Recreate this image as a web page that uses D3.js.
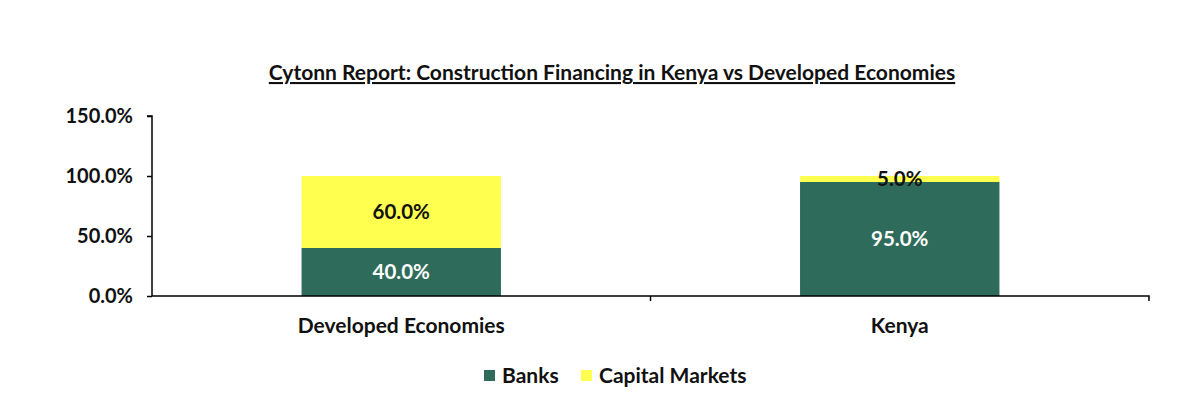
<!DOCTYPE html>
<html>
<head>
<meta charset="utf-8">
<script src="https://cdn.jsdelivr.net/npm/d3@7"></script>
<style>
  body { margin: 0; background: #fff; }
  text { font-family: Lato, "Open Sans", sans-serif; font-weight: bold; }
</style>
</head>
<body>
<div class="chart"></div>
<script>
const categories = ['Developed Economies', 'Kenya'];
const seriesNames = ['Banks', 'Capital Markets'];
const banks = [40.0, 95.0];
const capitalMarkets = [60.0, 5.0];
const yTicks = [0, 50, 100, 150];

const colors = { 'Banks': '#2e6b5a', 'Capital Markets': '#ffff4f' };
const labelColors = { 'Banks': '#ffffff', 'Capital Markets': '#111111' };

const W = 1188, H = 410;
const margin = { top: 116, right: 39, bottom: 114, left: 152 };
const width = W - margin.left - margin.right;
const height = H - margin.top - margin.bottom;

const rows = categories.map((c, i) => ({ cat: c, 'Banks': banks[i], 'Capital Markets': capitalMarkets[i] }));
const stacked = d3.stack().keys(seriesNames)(rows);

const x = d3.scaleBand().domain(categories).range([0, width]).paddingInner(0.6).paddingOuter(0.3);
const y = d3.scaleLinear().domain([0, 150]).range([height, 0]);

const svg = d3.select('.chart').append('svg')
    .attr('width', W)
    .attr('height', H);

// title
svg.append('text')
    .attr('x', 612)
    .attr('y', 80)
    .attr('text-anchor', 'middle')
    .attr('font-size', 21)
    .attr('text-decoration', 'underline')
    .attr('fill', '#111')
    .text('Cytonn Report: Construction Financing in Kenya vs Developed Economies');

const g = svg.append('g')
    .attr('transform', 'translate(' + margin.left + ',' + margin.top + ')');

// bars
const layer = g.selectAll('.layer')
    .data(stacked)
    .enter()
    .append('g')
    .attr('fill', d => colors[d.key]);

layer.selectAll('rect')
    .data(d => d)
    .enter()
    .append('rect')
    .attr('x', d => x(d.data.cat))
    .attr('y', d => y(d[1]))
    .attr('width', x.bandwidth())
    .attr('height', d => y(d[0]) - y(d[1]));

// data labels
stacked.forEach(s => {
    g.selectAll('.lbl-' + s.index)
        .data(s)
        .enter()
        .append('text')
        .attr('x', d => x(d.data.cat) + x.bandwidth() / 2)
        .attr('y', d => (y(d[0]) + y(d[1])) / 2)
        .attr('dy', '0.35em')
        .attr('text-anchor', 'middle')
        .attr('font-size', 20.5)
        .attr('fill', labelColors[s.key])
        .text(d => (d[1] - d[0]).toFixed(1) + '%');
});

// y axis
const yAxis = g.append('g')
    .call(d3.axisLeft(y).tickValues(yTicks).tickSize(5).tickFormat(d => d.toFixed(1) + '%'));
yAxis.select('.domain').attr('stroke', '#000').attr('stroke-width', 1.5).attr('d', 'M-5,' + y(150) + 'H0V' + height);
yAxis.selectAll('.tick line').attr('stroke', '#000').attr('stroke-width', 1.5);
yAxis.selectAll('.tick text').attr('font-size', 20).attr('fill', '#111').attr('x', -19);

// x axis
const xAxis = g.append('g')
    .attr('transform', 'translate(0,' + height + ')')
    .call(d3.axisBottom(x).tickSize(0).tickPadding(22));
xAxis.select('.domain').attr('stroke', '#000').attr('stroke-width', 1.5).attr('d', 'M0,0H' + width + 'V5');
xAxis.selectAll('.tick text').attr('font-size', 21).attr('fill', '#111');
// category boundary ticks
g.selectAll('.sep')
    .data(categories.slice(1))
    .enter()
    .append('line')
    .attr('x1', d => x(d) - x.step() * x.paddingInner() / 2)
    .attr('x2', d => x(d) - x.step() * x.paddingInner() / 2)
    .attr('y1', height)
    .attr('y2', height + 5)
    .attr('stroke', '#000')
    .attr('stroke-width', 1.5);

// legend
const legend = svg.append('g').attr('transform', 'translate(484,376)');
const legendX = [0, 97];
const item = legend.selectAll('.item')
    .data(seriesNames)
    .enter()
    .append('g')
    .attr('transform', (d, i) => 'translate(' + legendX[i] + ',0)');
item.append('rect')
    .attr('x', 0)
    .attr('y', -6)
    .attr('width', 11)
    .attr('height', 11)
    .attr('fill', d => colors[d]);
item.append('text')
    .attr('x', 18)
    .attr('y', 0)
    .attr('dy', '0.35em')
    .attr('font-size', 21)
    .attr('fill', '#111')
    .text(d => d);
</script>
</body>
</html>
